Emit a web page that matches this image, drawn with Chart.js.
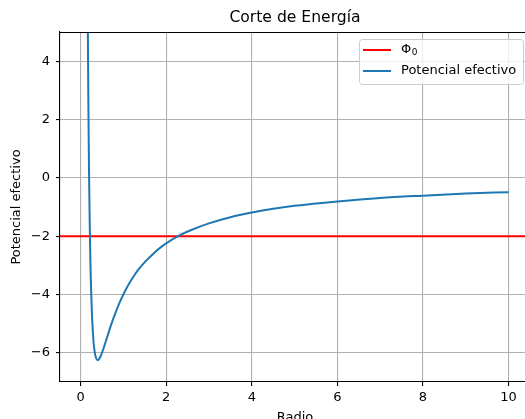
<!DOCTYPE html>
<html>
<head>
<meta charset="utf-8">
<script src="https://cdn.jsdelivr.net/npm/chart.js@4.4.1/dist/chart.umd.min.js"></script>
<style>
  html, body { margin: 0; padding: 0; background: #fff; }
  #wrap { width: 525px; height: 419px; overflow: hidden; position: relative; }
  canvas { display: block; }
</style>
</head>
<body>
<div id="wrap"><canvas id="c" width="545" height="430"></canvas></div>
<script>
// Radial distance samples and the effective potential at each one
const radio = [0.10, 0.15, 0.16, 0.17, 0.18, 0.19, 0.20, 0.21, 0.22, 0.23, 0.24, 0.25, 0.27,
  0.30, 0.33, 0.36, 0.40, 0.44, 0.48, 0.55, 0.60, 0.70, 0.80, 0.90, 1.00, 1.10, 1.20, 1.35,
  1.50, 1.70, 1.90, 2.10, 2.30, 2.60, 3.00, 3.50, 4.00, 4.50, 5.00, 6.00, 7.00, 8.00, 9.00, 10.00];
const potencial = [50.0, 11.11, 7.81, 5.19, 3.09, 1.39, 0.00, -1.13, -2.07, -2.84, -3.47, -4.00, -4.80,
  -5.56, -5.97, -6.17, -6.25, -6.20, -6.08, -5.79, -5.56, -5.10, -4.69, -4.32, -4.00, -3.72, -3.47, -3.15,
  -2.89, -2.60, -2.35, -2.15, -1.98, -1.78, -1.56, -1.35, -1.19, -1.06, -0.96, -0.81, -0.69, -0.61, -0.54, -0.49];
// Energy level
const phi0 = -2;

// Axis limits and tick labels
const xLimits = [-0.48, 10.5];
const yLimits = [-7, 5];
const xTicks = [0, 2, 4, 6, 8, 10];
const yTicks = [-6, -4, -2, 0, 2, 4];

const FONT = "'DejaVu Sans', 'Liberation Sans', sans-serif";
const FS = 13;
const fmt = v => String(v).replace('-', '\u2212');

// Frame on the remaining sides plus an in-plot legend
const framePlugin = {
  id: 'frame',
  afterDraw(chart) {
    const { ctx, chartArea: a } = chart;
    ctx.save();
    ctx.strokeStyle = '#000';
    ctx.lineWidth = 1.1;
    ctx.beginPath();
    ctx.moveTo(a.left, a.top + 0.5);
    ctx.lineTo(a.right, a.top + 0.5);
    ctx.moveTo(a.right - 0.5, a.top);
    ctx.lineTo(a.right - 0.5, a.bottom);
    ctx.stroke();

    // legend box
    const bx = 359.5, by = 39.5, bw = 164, bh = 45, r = 3;
    ctx.fillStyle = 'rgba(255,255,255,0.8)';
    ctx.strokeStyle = '#cccccc';
    ctx.lineWidth = 1;
    ctx.beginPath();
    ctx.moveTo(bx + r, by);
    ctx.arcTo(bx + bw, by, bx + bw, by + bh, r);
    ctx.arcTo(bx + bw, by + bh, bx, by + bh, r);
    ctx.arcTo(bx, by + bh, bx, by, r);
    ctx.arcTo(bx, by, bx + bw, by, r);
    ctx.closePath();
    ctx.fill();
    ctx.stroke();

    const rows = [50, 71];
    chart.data.datasets.forEach((ds, i) => {
      const y = rows[i];
      ctx.strokeStyle = ds.borderColor;
      ctx.lineWidth = 2;
      ctx.beginPath();
      ctx.moveTo(363, y);
      ctx.lineTo(391, y);
      ctx.stroke();
      ctx.fillStyle = '#000';
      ctx.textBaseline = 'middle';
      ctx.textAlign = 'left';
      if (ds.label === 'Φ₀') {
        ctx.font = FS + 'px ' + FONT;
        ctx.fillText('Φ', 401, y);
        const w = ctx.measureText('Φ').width;
        ctx.font = '9px ' + FONT;
        ctx.fillText('0', 401 + w + 0.5, y + 3);
      } else {
        ctx.font = FS + 'px ' + FONT;
        ctx.fillText(ds.label, 401, y);
      }
    });
    ctx.restore();
  }
};

const curva = radio.map((r, i) => ({ x: r, y: potencial[i] }));
const nivel = xLimits.map(x => ({ x: x, y: phi0 }));

new Chart(document.getElementById('c'), {
  type: 'line',
  data: {
    datasets: [
      {
        label: 'Φ₀',
        data: nivel,
        borderColor: '#ff0000',
        borderWidth: 2,
        pointRadius: 0,
        order: 1,
        clip: 0
      },
      {
        label: 'Potencial efectivo',
        data: curva,
        borderColor: '#1f77b4',
        borderWidth: 2,
        pointRadius: 0,
        cubicInterpolationMode: 'monotone',
        order: 0,
        clip: 0
      }
    ]
  },
  options: {
    responsive: false,
    animation: false,
    devicePixelRatio: 1,
    layout: { padding: { left: 0, right: 15, top: 0, bottom: 0 } },
    plugins: {
      legend: { display: false },
      tooltip: { enabled: false },
      title: {
        display: true,
        text: 'Corte de Energía',
        fullSize: false,
        color: '#000',
        font: { family: FONT, size: 15.6, weight: 'normal', lineHeight: 1.2 },
        padding: { top: 9, bottom: 4.3 }
      }
    },
    scales: {
      x: {
        type: 'linear',
        min: xLimits[0],
        max: xLimits[1],
        afterBuildTicks: s => { s.ticks = xTicks.map(v => ({ value: v })); },
        afterFit: s => { s.height = 48; },
        ticks: {
          color: '#000',
          font: { family: FONT, size: FS },
          padding: 4,
          maxRotation: 0,
          callback: v => fmt(v)
        },
        grid: {
          color: '#b0b0b0',
          lineWidth: 1.1,
          tickColor: '#000',
          tickLength: 4,
          tickWidth: 1.1
        },
        border: { color: '#000', width: 1.1 },
        title: {
          display: true,
          text: 'Radio',
          color: '#000',
          font: { family: FONT, size: FS, lineHeight: 1.2 },
          padding: { top: 0, bottom: 5 }
        }
      },
      y: {
        type: 'linear',
        min: yLimits[0],
        max: yLimits[1],
        afterBuildTicks: s => { s.ticks = yTicks.map(v => ({ value: v })); },
        afterFit: s => { s.width = 60; },
        ticks: {
          color: '#000',
          font: { family: FONT, size: FS },
          padding: 6,
          callback: v => fmt(v)
        },
        grid: {
          color: '#b0b0b0',
          lineWidth: 1.1,
          tickColor: '#000',
          tickLength: 4,
          tickWidth: 1.1
        },
        border: { color: '#000', width: 1.1 },
        title: {
          display: true,
          text: 'Potencial efectivo',
          color: '#000',
          font: { family: FONT, size: FS, lineHeight: 1.2 },
          padding: { top: 9.2, bottom: 0 }
        }
      }
    }
  },
  plugins: [framePlugin]
});
</script>
</body>
</html>
